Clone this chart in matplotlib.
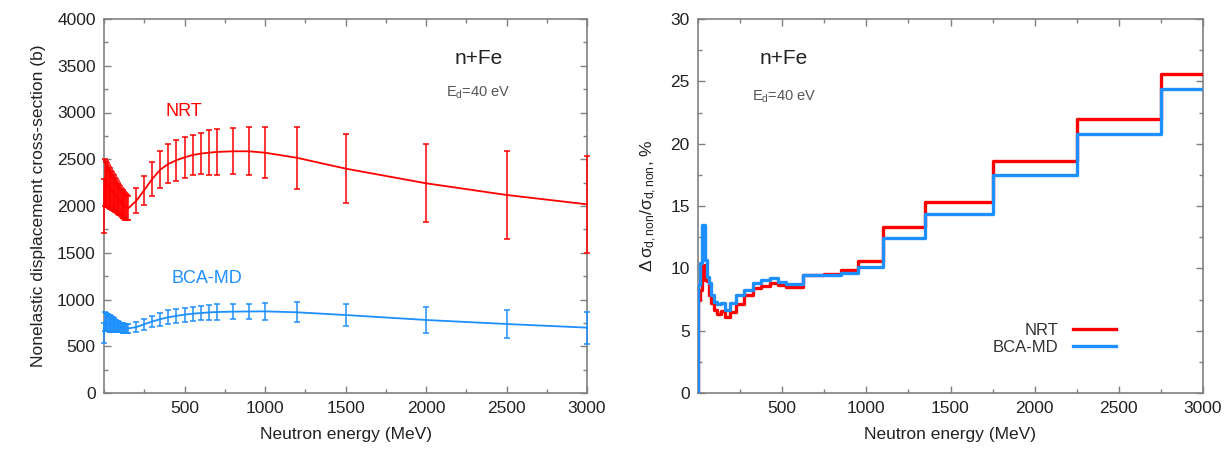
import matplotlib
matplotlib.use("Agg")
import matplotlib.pyplot as plt
from matplotlib.ticker import MultipleLocator

plt.rcParams['font.family'] = ['Liberation Sans', 'DejaVu Sans']
plt.rcParams['mathtext.fontset'] = 'custom'
plt.rcParams['mathtext.rm'] = 'Liberation Sans'
plt.rcParams['mathtext.it'] = 'Liberation Sans'

# ---------------- Left panel data ----------------
energy_left = [1, 5, 10, 15, 20, 25, 30, 35, 40, 45, 50, 55, 60, 65, 70, 75,
               80, 85, 90, 95, 100, 105, 110, 115, 120, 125, 130, 135, 140,
               150, 200, 250, 300, 350, 400, 450, 500, 550, 600, 650, 700,
               800, 900, 1000, 1200, 1500, 2000, 2500, 3000]
nrt_val = [2000, 2250, 2240, 2230, 2220, 2210, 2200, 2190, 2180, 2170, 2160,
           2150, 2140, 2130, 2120, 2110, 2095, 2085, 2075, 2065, 2055, 2045,
           2035, 2025, 2015, 2005, 1995, 1990, 1985,
           1975, 2055, 2170, 2290, 2390, 2450, 2490, 2520, 2545, 2560, 2570,
           2578, 2585, 2585, 2570, 2515, 2400, 2243, 2118, 2018]
nrt_err = [290, 250, 245, 240, 235, 225, 220, 215, 210, 205, 200, 195, 190,
           185, 180, 175, 170, 165, 160, 158, 155, 152, 150, 148, 145, 142,
           140, 138, 136,
           130, 133, 154, 180, 200, 209, 220, 216, 216, 218, 243, 244, 247,
           255, 272, 334, 367, 418, 466, 517]
bca_val = [640, 765, 762, 758, 755, 752, 748, 745, 742, 738, 735, 732, 728,
           725, 722, 718, 715, 712, 709, 706, 703, 700, 698, 696, 694, 692,
           690, 689, 688,
           690, 705, 735, 765, 790, 810, 825, 838, 848, 855, 862, 866, 870,
           872, 873, 863, 834, 781, 738, 699]
bca_err = [110, 100, 98, 96, 94, 92, 90, 88, 85, 82, 80, 76, 72, 68, 64, 60,
           58, 56, 54, 52, 50, 50, 49, 49, 48, 48, 48, 48, 48,
           50, 51, 58, 63, 70, 73, 76, 75, 74, 75, 82, 82, 83, 84, 88, 107,
           120, 137, 153, 170]

# ---------------- Right panel data ----------------
energy_right = [0, 5, 15, 30, 50, 60, 75, 85, 100, 120, 150, 175, 200, 250,
                300, 350, 400, 450, 500, 550, 600, 650, 700, 800, 900, 1000,
                1200, 1500, 2000, 2500, 3000]
nrt_pct = [0, 7.5, 8.3, 10.3, 9.06, 9.0, 7.86, 7.2, 6.66, 6.3, 6.6, 6.1, 6.5,
           7.1, 7.86, 8.4, 8.6, 8.85, 8.66, 8.5, 8.5, 9.46, 9.46, 9.55, 9.85,
           10.6, 13.3, 15.3, 18.6, 22.0, 25.6]
bca_pct = [0, 8.7, 10.4, 13.5, 10.7, 9.3, 8.8, 7.86, 7.27, 7.1, 7.2, 6.66,
           7.2, 7.86, 8.26, 8.8, 9.06, 9.25, 8.93, 8.74, 8.74, 9.5, 9.5, 9.5,
           9.6, 10.1, 12.45, 14.35, 17.5, 20.8, 24.35]

RED = '#ff0000'
BLUE = '#1e8fff'
GREY = '#808080'
TXT = '#222222'

fig = plt.figure(figsize=(12.31, 4.54), dpi=100)
axL = fig.add_axes([104/1231, 61/454, 483/1231, 374/454])
axR = fig.add_axes([698/1231, 61/454, 505/1231, 374/454])


def style(ax):
    for s in ax.spines.values():
        s.set_color(GREY)
        s.set_linewidth(1.2)
    ax.tick_params(which='both', direction='in', top=True, right=True,
                   color=GREY, labelsize=12.5, labelcolor=TXT, pad=6)
    ax.tick_params(which='major', length=5, width=1)
    ax.tick_params(which='minor', length=3, width=1)
    ax.set_xlim(0, 3000)
    ax.set_xticks([500, 1000, 1500, 2000, 2500, 3000])
    ax.xaxis.set_minor_locator(MultipleLocator(250))
    ax.set_xlabel('Neutron energy (MeV)', fontsize=12.5, color=TXT,
                  labelpad=8)


# Left
style(axL)
axL.set_ylim(0, 4000)
axL.yaxis.set_major_locator(MultipleLocator(500))
axL.yaxis.set_minor_locator(MultipleLocator(250))
axL.errorbar(energy_left, nrt_val, yerr=nrt_err, color=RED, lw=1.3,
             elinewidth=1.1, capsize=2.2, capthick=1.1, clip_on=False, zorder=3)
axL.errorbar(energy_left, bca_val, yerr=bca_err, color=BLUE, lw=1.3,
             elinewidth=1.1, capsize=2.2, capthick=1.1, clip_on=False, zorder=3)
axL.set_ylabel('Nonelastic displacement cross-section (b)', fontsize=12.5,
               color=TXT, labelpad=8)
axL.text(0.775, 0.895, 'n+Fe', transform=axL.transAxes, fontsize=15,
         color=TXT, ha='center', va='center')
axL.text(0.775, 0.803, r'E$_{\rm d}$=40 eV', transform=axL.transAxes,
         fontsize=10.5, color='#555555', ha='center', va='center')
axL.text(0.166, 0.752, 'NRT', transform=axL.transAxes, fontsize=13,
         color=RED, ha='center', va='center')
axL.text(0.212, 0.305, 'BCA-MD', transform=axL.transAxes, fontsize=13,
         color=BLUE, ha='center', va='center')

# Right
style(axR)
axR.set_ylim(0, 30)
axR.yaxis.set_major_locator(MultipleLocator(5))
axR.yaxis.set_minor_locator(MultipleLocator(2.5))
axR.step(energy_right, nrt_pct, where='mid', color=RED, lw=2.4, label='NRT',
         zorder=3)
axR.step(energy_right, bca_pct, where='mid', color=BLUE, lw=2.4,
         label='BCA-MD', zorder=4)
axR.set_ylabel(r'$\Delta\,\sigma_{\rm d,non}/\sigma_{\rm d,non}$, %',
               fontsize=12.5, color=TXT, labelpad=8)
axR.text(0.17, 0.895, 'n+Fe', transform=axR.transAxes, fontsize=15,
         color=TXT, ha='center', va='center')
axR.text(0.17, 0.793, r'E$_{\rm d}$=40 eV', transform=axR.transAxes,
         fontsize=10.5, color='#555555', ha='center', va='center')
leg = axR.legend(loc='lower right', bbox_to_anchor=(0.845, 0.08),
                 frameon=False, fontsize=12, markerfirst=False,
                 handlelength=2.6, handletextpad=0.9, labelspacing=0.1,
                 borderpad=0)
for t in leg.get_texts():
    t.set_color('#333333')

fig.savefig('out.png', dpi=100)
